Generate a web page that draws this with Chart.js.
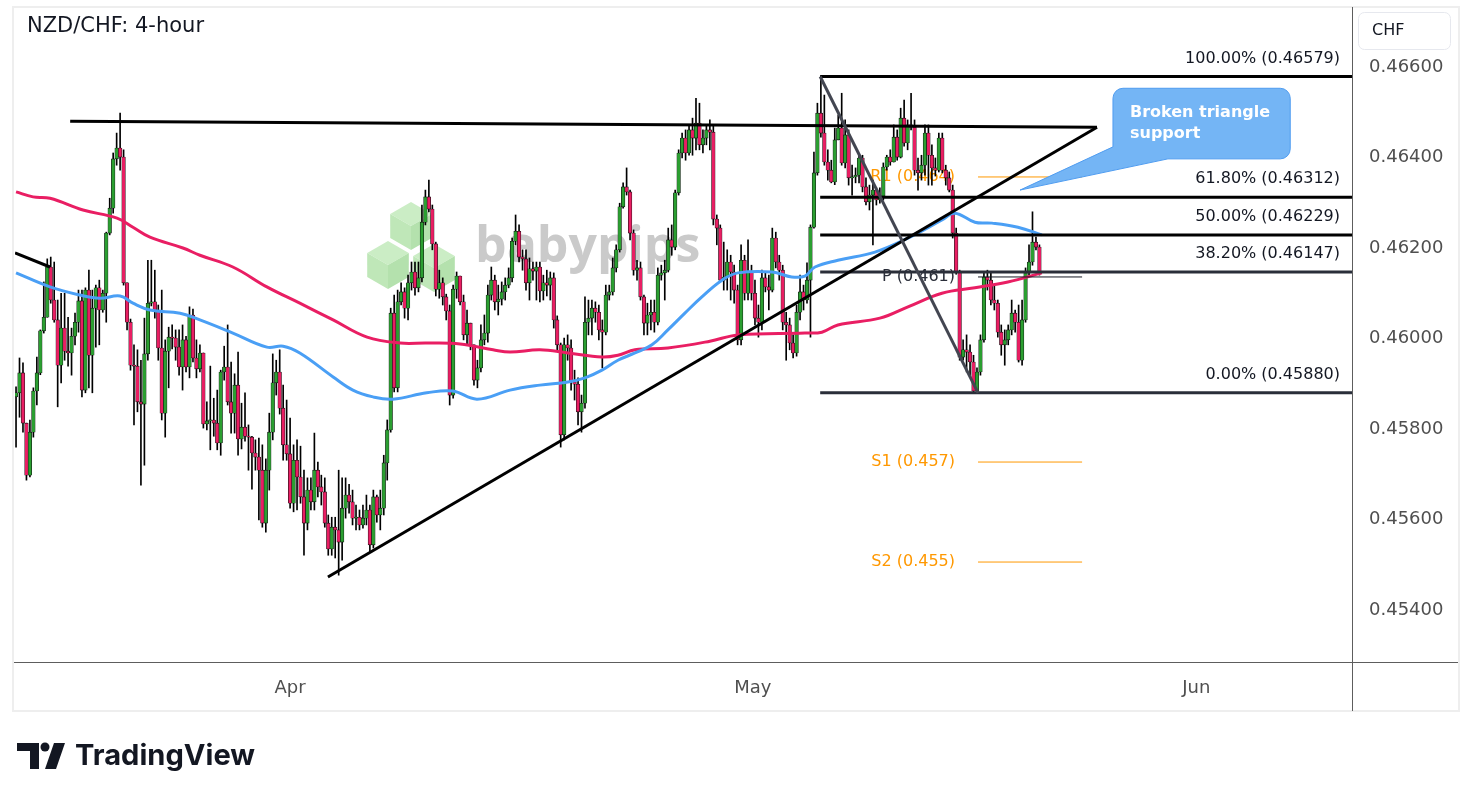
<!DOCTYPE html>
<html>
<head>
<meta charset="utf-8">
<title>NZD/CHF 4-hour</title>
<script src="https://cdn.jsdelivr.net/npm/chart.js@4.4.1/dist/chart.umd.min.js"></script>
<style>
  html, body { margin: 0; padding: 0; background: #ffffff; }
  canvas { display: block; }
</style>
</head>
<body>
<canvas id="priceChart" width="1473" height="801"></canvas>
<script>
// 4-hour candles (open = previous close)
const firstOpen = 0.45871;
const closes = [
  0.45880, 0.45924, 0.45813, 0.45698, 0.45793, 0.45884, 0.45924, 0.46017, 0.46047, 0.46158,
  0.46085, 0.46041, 0.45941, 0.46023, 0.45972, 0.45968, 0.46005, 0.46036, 0.46083, 0.45886,
  0.46107, 0.45963, 0.46067, 0.46112, 0.46063, 0.46100, 0.46233, 0.46288, 0.46397, 0.46421,
  0.46401, 0.46123, 0.46036, 0.45941, 0.45939, 0.45860, 0.45855, 0.45966, 0.46078, 0.46081,
  0.46061, 0.45979, 0.45835, 0.45972, 0.46003, 0.46001, 0.45981, 0.45937, 0.45997, 0.45937,
  0.46052, 0.45957, 0.45933, 0.45968, 0.45811, 0.45818, 0.45820, 0.45813, 0.45769, 0.45926,
  0.45937, 0.45860, 0.45835, 0.45897, 0.45778, 0.45804, 0.45784, 0.45782, 0.45747, 0.45738,
  0.45709, 0.45592, 0.45709, 0.45793, 0.45902, 0.45926, 0.45846, 0.45765, 0.45745, 0.45636,
  0.45731, 0.45694, 0.45650, 0.45592, 0.45665, 0.45639, 0.45709, 0.45672, 0.45661, 0.45592,
  0.45535, 0.45583, 0.45577, 0.45550, 0.45625, 0.45654, 0.45639, 0.45603, 0.45605, 0.45588,
  0.45603, 0.45621, 0.45544, 0.45650, 0.45610, 0.45625, 0.45725, 0.45798, 0.46056, 0.45891,
  0.46081, 0.46103, 0.46067, 0.46123, 0.46147, 0.46112, 0.46134, 0.46257, 0.46313, 0.46286,
  0.46209, 0.46109, 0.46123, 0.46092, 0.46061, 0.45875, 0.46109, 0.46138, 0.46081, 0.46008,
  0.46034, 0.45986, 0.45908, 0.45935, 0.45997, 0.46012, 0.46096, 0.46129, 0.46081, 0.46087,
  0.46103, 0.46118, 0.46134, 0.46215, 0.46237, 0.46180, 0.46176, 0.46123, 0.46154, 0.46149,
  0.46158, 0.46105, 0.46123, 0.46118, 0.46134, 0.46041, 0.45986, 0.45787, 0.45986, 0.45979,
  0.45904, 0.45899, 0.45838, 0.45857, 0.46036, 0.46045, 0.46067, 0.46058, 0.46019, 0.46014,
  0.46096, 0.46103, 0.46156, 0.46196, 0.46291, 0.46335, 0.46324, 0.46233, 0.46151, 0.46156,
  0.46092, 0.46034, 0.46052, 0.46058, 0.46036, 0.46140, 0.46145, 0.46151, 0.46218, 0.46202,
  0.46322, 0.46410, 0.46443, 0.46410, 0.46461, 0.46443, 0.46476, 0.46428, 0.46443, 0.46461,
  0.46456, 0.46264, 0.46244, 0.46129, 0.46136, 0.46169, 0.46147, 0.46107, 0.45997, 0.46173,
  0.46100, 0.46147, 0.46100, 0.46045, 0.46036, 0.46134, 0.46114, 0.46107, 0.46222, 0.46169,
  0.46151, 0.46036, 0.46030, 0.45990, 0.45968, 0.46058, 0.46103, 0.46085, 0.46129, 0.46246,
  0.46366, 0.46498, 0.46454, 0.46390, 0.46372, 0.46346, 0.46439, 0.46465, 0.46388, 0.46450,
  0.46355, 0.46357, 0.46361, 0.46399, 0.46335, 0.46302, 0.46317, 0.46328, 0.46306, 0.46315,
  0.46379, 0.46401, 0.46390, 0.46445, 0.46401, 0.46487, 0.46432, 0.46472, 0.46467, 0.46372,
  0.46366, 0.46383, 0.46454, 0.46405, 0.46377, 0.46372, 0.46443, 0.46372, 0.46355, 0.46328,
  0.46233, 0.46147, 0.45959, 0.45975, 0.45970, 0.45948, 0.45884, 0.45926, 0.45997, 0.46136,
  0.46129, 0.46085, 0.46078, 0.46014, 0.45986, 0.45997, 0.46019, 0.46056, 0.46036, 0.45952,
  0.46041, 0.46145, 0.46169, 0.46213, 0.46202, 0.46147
];
const highs = [
  0.45893, 0.45957, 0.45946, 0.45813, 0.45820, 0.45891, 0.45959, 0.46019, 0.46125, 0.46176,
  0.46180, 0.46169, 0.46085, 0.46100, 0.46100, 0.46047, 0.46023, 0.46056, 0.46107, 0.46107,
  0.46112, 0.46151, 0.46107, 0.46118, 0.46129, 0.46107, 0.46235, 0.46310, 0.46410, 0.46454,
  0.46498, 0.46417, 0.46123, 0.46043, 0.45986, 0.45975, 0.45952, 0.46045, 0.46173, 0.46173,
  0.46151, 0.46074, 0.46107, 0.45997, 0.46025, 0.46030, 0.46019, 0.46019, 0.46030, 0.46005,
  0.46070, 0.46065, 0.45997, 0.45986, 0.45968, 0.45860, 0.45939, 0.45868, 0.45886, 0.45930,
  0.45983, 0.46030, 0.45948, 0.45922, 0.45970, 0.45857, 0.45880, 0.45809, 0.45784, 0.45776,
  0.45780, 0.45765, 0.45734, 0.45835, 0.45966, 0.45952, 0.45975, 0.45897, 0.45864, 0.45824,
  0.45765, 0.45776, 0.45762, 0.45709, 0.45692, 0.45692, 0.45791, 0.45727, 0.45698, 0.45692,
  0.45610, 0.45605, 0.45605, 0.45709, 0.45692, 0.45692, 0.45678, 0.45665, 0.45632, 0.45621,
  0.45632, 0.45654, 0.45632, 0.45665, 0.45654, 0.45665, 0.45742, 0.45820, 0.46067, 0.46096,
  0.46107, 0.46123, 0.46112, 0.46140, 0.46169, 0.46169, 0.46169, 0.46295, 0.46328, 0.46350,
  0.46295, 0.46213, 0.46151, 0.46134, 0.46098, 0.46074, 0.46118, 0.46147, 0.46138, 0.46096,
  0.46063, 0.46034, 0.45986, 0.45952, 0.46030, 0.46052, 0.46118, 0.46158, 0.46140, 0.46118,
  0.46125, 0.46134, 0.46156, 0.46222, 0.46273, 0.46251, 0.46196, 0.46196, 0.46178, 0.46169,
  0.46169, 0.46169, 0.46140, 0.46151, 0.46147, 0.46145, 0.46050, 0.45990, 0.46001, 0.46008,
  0.45997, 0.45930, 0.45913, 0.45875, 0.46092, 0.46085, 0.46085, 0.46081, 0.46074, 0.46041,
  0.46118, 0.46118, 0.46178, 0.46207, 0.46299, 0.46344, 0.46377, 0.46328, 0.46240, 0.46173,
  0.46169, 0.46096, 0.46078, 0.46085, 0.46085, 0.46156, 0.46162, 0.46173, 0.46244, 0.46251,
  0.46328, 0.46417, 0.46454, 0.46461, 0.46472, 0.46487, 0.46531, 0.46520, 0.46461, 0.46472,
  0.46483, 0.46472, 0.46273, 0.46251, 0.46213, 0.46196, 0.46184, 0.46162, 0.46118, 0.46207,
  0.46184, 0.46218, 0.46162, 0.46129, 0.46074, 0.46151, 0.46147, 0.46140, 0.46244, 0.46235,
  0.46184, 0.46162, 0.46058, 0.46045, 0.46008, 0.46074, 0.46140, 0.46118, 0.46167, 0.46251,
  0.46412, 0.46520, 0.46580, 0.46538, 0.46417, 0.46394, 0.46465, 0.46494, 0.46542, 0.46483,
  0.46461, 0.46383, 0.46377, 0.46405, 0.46405, 0.46355, 0.46339, 0.46350, 0.46333, 0.46333,
  0.46388, 0.46405, 0.46417, 0.46472, 0.46461, 0.46509, 0.46527, 0.46483, 0.46542, 0.46483,
  0.46399, 0.46405, 0.46472, 0.46472, 0.46428, 0.46399, 0.46454, 0.46454, 0.46383, 0.46368,
  0.46339, 0.46244, 0.46151, 0.45997, 0.46008, 0.45986, 0.45963, 0.45935, 0.46008, 0.46147,
  0.46151, 0.46147, 0.46118, 0.46085, 0.46030, 0.46019, 0.46030, 0.46085, 0.46063, 0.46074,
  0.46085, 0.46156, 0.46207, 0.46280, 0.46224, 0.46207
];
const lows = [
  0.45760, 0.45826, 0.45793, 0.45687, 0.45694, 0.45782, 0.45853, 0.45920, 0.46012, 0.46047,
  0.46078, 0.46036, 0.45849, 0.45902, 0.45952, 0.45939, 0.45919, 0.45986, 0.46014, 0.45871,
  0.45880, 0.45891, 0.45880, 0.45981, 0.45986, 0.46058, 0.46036, 0.46229, 0.46277, 0.46383,
  0.46372, 0.46118, 0.46019, 0.45930, 0.45809, 0.45838, 0.45676, 0.45720, 0.45952, 0.46072,
  0.46045, 0.45952, 0.45820, 0.45782, 0.45891, 0.45977, 0.45952, 0.45919, 0.45886, 0.45926,
  0.45913, 0.45948, 0.45913, 0.45926, 0.45802, 0.45798, 0.45754, 0.45784, 0.45754, 0.45742,
  0.45908, 0.45853, 0.45791, 0.45791, 0.45742, 0.45756, 0.45773, 0.45709, 0.45667, 0.45709,
  0.45599, 0.45583, 0.45572, 0.45665, 0.45776, 0.45875, 0.45833, 0.45731, 0.45731, 0.45625,
  0.45617, 0.45621, 0.45636, 0.45521, 0.45577, 0.45621, 0.45621, 0.45650, 0.45632, 0.45583,
  0.45521, 0.45521, 0.45515, 0.45477, 0.45510, 0.45603, 0.45614, 0.45588, 0.45577, 0.45577,
  0.45581, 0.45588, 0.45528, 0.45537, 0.45594, 0.45577, 0.45610, 0.45687, 0.45793, 0.45882,
  0.45882, 0.46074, 0.46045, 0.46041, 0.46107, 0.46096, 0.46103, 0.46125, 0.46251, 0.46280,
  0.46196, 0.46094, 0.46089, 0.46074, 0.46041, 0.45853, 0.45868, 0.46089, 0.46074, 0.45997,
  0.45986, 0.45975, 0.45897, 0.45891, 0.45926, 0.45986, 0.45992, 0.46085, 0.46063, 0.46052,
  0.46074, 0.46085, 0.46112, 0.46125, 0.46207, 0.46169, 0.46151, 0.46107, 0.46085, 0.46129,
  0.46085, 0.46081, 0.46085, 0.46094, 0.46085, 0.46023, 0.45975, 0.45760, 0.45776, 0.45952,
  0.45886, 0.45864, 0.45809, 0.45793, 0.45846, 0.46008, 0.46008, 0.46036, 0.45997, 0.45935,
  0.46008, 0.46085, 0.46096, 0.46147, 0.46191, 0.46288, 0.46317, 0.46218, 0.46140, 0.46129,
  0.46085, 0.46008, 0.46008, 0.46019, 0.46014, 0.46030, 0.46129, 0.46085, 0.46147, 0.46184,
  0.46196, 0.46317, 0.46399, 0.46394, 0.46405, 0.46405, 0.46417, 0.46417, 0.46410, 0.46428,
  0.46417, 0.46251, 0.46207, 0.46125, 0.46107, 0.46107, 0.46085, 0.46078, 0.45986, 0.45986,
  0.46085, 0.46085, 0.46085, 0.46030, 0.46003, 0.46019, 0.46103, 0.46063, 0.46103, 0.46156,
  0.46129, 0.46019, 0.45952, 0.45975, 0.45957, 0.45961, 0.46041, 0.46063, 0.46078, 0.46003,
  0.46244, 0.46361, 0.46445, 0.46383, 0.46350, 0.46344, 0.46340, 0.46439, 0.46383, 0.46377,
  0.46339, 0.46317, 0.46344, 0.46344, 0.46324, 0.46295, 0.46284, 0.46207, 0.46295, 0.46299,
  0.46306, 0.46372, 0.46383, 0.46390, 0.46394, 0.46399, 0.46425, 0.46417, 0.46461, 0.46361,
  0.46328, 0.46350, 0.46361, 0.46339, 0.46339, 0.46359, 0.46368, 0.46366, 0.46339, 0.46324,
  0.46222, 0.46142, 0.45952, 0.45952, 0.45926, 0.45919, 0.45880, 0.45880, 0.45919, 0.45992,
  0.46107, 0.46074, 0.46063, 0.46003, 0.45963, 0.45941, 0.45986, 0.46008, 0.46014, 0.45948,
  0.45941, 0.46036, 0.46140, 0.46162, 0.46196, 0.46140
];

// moving averages: candle index / price
const ma100X = [0, 9.8, 18.4, 24.2, 30, 33.7, 38.6, 47.3, 53, 62.5, 72.3, 77, 81.8, 91.4, 97.1, 102.9,
  108.6, 118.4, 125.9, 132.9, 142.4, 151, 159.1, 164, 168.9, 173.5, 178.4, 183.3, 187.9, 192.8, 197.7,
  203.5, 208.1, 217.9, 223.6, 227.4, 230.3, 236.9, 247.6, 257.1, 266.9, 270.6, 276.4, 281.3, 288.8, 295.7];
const ma100 = [0.46145, 0.46114, 0.46096, 0.46089, 0.46094, 0.46078, 0.46063, 0.46056, 0.46041, 0.46012,
  0.45981, 0.45983, 0.45968, 0.45915, 0.45886, 0.45871, 0.45866, 0.45880, 0.45884, 0.45866, 0.45886,
  0.45897, 0.45904, 0.45913, 0.45930, 0.45952, 0.45968, 0.45986, 0.46019, 0.46056, 0.46092, 0.46129,
  0.46145, 0.46147, 0.46136, 0.46138, 0.46158, 0.46173, 0.46191, 0.46222, 0.46262, 0.46277, 0.46257,
  0.46255, 0.46246, 0.46229];
const ma200X = [0, 4.9, 9.8, 19.3, 29.1, 33.7, 38.6, 48.1, 53, 62.5, 72.3, 81.8, 91.4, 101.2, 110.7,
  118.4, 128, 137.5, 142.4, 151, 159.1, 168.9, 173.5, 178.4, 187.9, 200, 208.1, 227.4, 232.3, 236.9,
  249, 257.1, 266.9, 276.4, 285.9, 295.7];
const ma200 = [0.46324, 0.46313, 0.46310, 0.46284, 0.46266, 0.46246, 0.46224, 0.46200, 0.46184, 0.46158,
  0.46114, 0.46078, 0.46041, 0.46003, 0.45990, 0.45990, 0.45988, 0.45975, 0.45970, 0.45975, 0.45968,
  0.45959, 0.45963, 0.45975, 0.45979, 0.45994, 0.46008, 0.46012, 0.46014, 0.46030, 0.46045, 0.46070,
  0.46100, 0.46112, 0.46125, 0.46145];

// axes
const months = ["Apr", "May", "Jun"];
const monthX = [79, 212.4, 340.2];
const priceTicks = [0.454, 0.456, 0.458, 0.46, 0.462, 0.464, 0.466];
const xMin = -0.3, xMax = 385.1;
const yMin = 0.452851, yMax = 0.467304;

// drawings
const fibLevels = [100, 61.8, 50, 38.2, 0];
const fibPrices = [0.46579, 0.46312, 0.46229, 0.46147, 0.4588];
const fibFrom = 231.8;
const swingX = [231.8, 277.3];
const swingY = [0.46579, 0.4588];
const triTopX = [15.6, 311.6];
const triTopY = [0.4648, 0.46467];
const triLowX = [89.9, 311.6];
const triLowY = [0.45473, 0.46467];
const oldLineX = [-0.3, 9.8];
const oldLineY = [0.46189, 0.46158];
const pivotNames = ["R1", "P", "S1", "S2"];
const pivotRounded = [0.464, 0.461, 0.457, 0.455];
const pivotPrices = [0.46357, 0.46136, 0.45727, 0.45506];
const pivotX = [277.3, 307.3];

const UP = "#2b9f31";
const DOWN = "#e91e63";

const opens = [firstOpen].concat(closes.slice(0, -1));
const wickData = closes.map((c, i) => ({ x: i, y: [lows[i], highs[i]] }));
const bodyData = closes.map((c, i) => ({ x: i, y: [opens[i], c] }));
const bodyColors = closes.map((c, i) => (c >= opens[i] ? UP : DOWN));

function seg(xs, ys) {
  return xs.map((v, i) => ({ x: v, y: ys[i] }));
}

function lineSet(data, color, width, order) {
  return {
    type: "line",
    data: data,
    borderColor: color,
    borderWidth: width,
    pointRadius: 0,
    fill: false,
    tension: 0,
    order: order,
  };
}

const datasets = [
  {
    type: "bar",
    data: wickData,
    backgroundColor: "#000000",
    barThickness: 1,
    grouped: false,
    order: 20,
  },
  {
    type: "bar",
    data: bodyData,
    backgroundColor: bodyColors,
    borderColor: "#111111",
    borderWidth: 0.6,
    borderSkipped: false,
    barThickness: 3.6,
    minBarLength: 1,
    grouped: false,
    order: 19,
  },
  Object.assign(lineSet(seg(ma200X, ma200), "#e91e63", 3, 11), { tension: 0.4 }),
  Object.assign(lineSet(seg(ma100X, ma100), "#4a9ff5", 3, 10), { tension: 0.4 }),
];
pivotNames.forEach((n, i) => {
  datasets.push(lineSet(seg(pivotX, [pivotPrices[i], pivotPrices[i]]), n === "P" ? "#131722" : "#ff9800", 1, 5));
});
fibPrices.forEach((p, i) => {
  datasets.push(lineSet(seg([fibFrom, xMax], [p, p]), i > 2 ? "#2a2e39" : "#000000", 3, 2));
});
datasets.push(lineSet(seg(swingX, swingY), "#434651", 3, 1));
datasets.push(lineSet(seg(triTopX, triTopY), "#000000", 3, 1));
datasets.push(lineSet(seg(triLowX, triLowY), "#000000", 3, 1));
datasets.push(lineSet(seg(oldLineX, oldLineY), "#000000", 3, 1));

function cube(ctx, cx, cy, r) {
  const w = r * Math.cos(Math.PI / 6);
  const faces = [
    ["#cbedc5", [[cx, cy], [cx - w, cy - r / 2], [cx, cy - r], [cx + w, cy - r / 2]]],
    ["#bfe7b8", [[cx, cy], [cx - w, cy - r / 2], [cx - w, cy + r / 2], [cx, cy + r]]],
    ["#b4e1ad", [[cx, cy], [cx + w, cy - r / 2], [cx + w, cy + r / 2], [cx, cy + r]]],
  ];
  faces.forEach(([c, pts]) => {
    ctx.beginPath();
    pts.forEach((p, k) => (k ? ctx.lineTo(p[0], p[1]) : ctx.moveTo(p[0], p[1])));
    ctx.closePath();
    ctx.fillStyle = c;
    ctx.fill();
  });
}

const overlay = {
  id: "overlay",
  beforeDatasetsDraw(chart) {
    const { ctx, scales } = chart;
    const x = scales.x, y = scales.y;
    ctx.save();
    // watermark
    cube(ctx, 411, 226, 24);
    cube(ctx, 388, 265, 24);
    cube(ctx, 434, 268, 24);
    ctx.font = 'bold 50px "Open Sans"';
    ctx.fillStyle = "#cacaca";
    ctx.textAlign = "left";
    ctx.textBaseline = "alphabetic";
    ctx.fillText("babypips", 475, 262);
    // pivot labels
    ctx.font = '16px "DejaVu Sans"';
    ctx.textAlign = "right";
    ctx.textBaseline = "middle";
    pivotNames.forEach((n, i) => {
      ctx.fillStyle = n === "P" ? "#2a2e39" : "#ff9800";
      ctx.fillText(n + " (" + pivotRounded[i].toFixed(3) + ")",
        x.getPixelForValue(pivotX[0]) - 23, y.getPixelForValue(pivotPrices[i]));
    });
    ctx.restore();
  },
  afterDatasetsDraw(chart) {
    const { ctx, scales, chartArea } = chart;
    const x = scales.x, y = scales.y;
    ctx.save();
    // fib labels
    ctx.font = '16px "DejaVu Sans"';
    ctx.fillStyle = "#131722";
    ctx.textAlign = "right";
    ctx.textBaseline = "middle";
    fibPrices.forEach((p, i) => {
      ctx.fillText(fibLevels[i].toFixed(2) + "% (" + p.toFixed(5) + ")",
        chartArea.right - 12, y.getPixelForValue(p) - 18);
    });
    // callout
    const l = x.getPixelForValue(316.2), r = x.getPixelForValue(367.3);
    const t = y.getPixelForValue(0.46553), b = y.getPixelForValue(0.46397);
    const tipX = x.getPixelForValue(289.4), tipY = y.getPixelForValue(0.46328);
    const R = 10;
    ctx.beginPath();
    ctx.moveTo(l + R, t);
    ctx.lineTo(r - R, t);
    ctx.arcTo(r, t, r, t + R, R);
    ctx.lineTo(r, b - R);
    ctx.arcTo(r, b, r - R, b, R);
    ctx.lineTo(l + 55, b);
    ctx.lineTo(tipX, tipY);
    ctx.lineTo(l, b - 12);
    ctx.lineTo(l, t + R);
    ctx.arcTo(l, t, l + R, t, R);
    ctx.closePath();
    ctx.fillStyle = "#74b5f5";
    ctx.fill();
    ctx.strokeStyle = "#4f9cf0";
    ctx.lineWidth = 1;
    ctx.stroke();
    ctx.fillStyle = "#ffffff";
    ctx.font = 'bold 16px "DejaVu Sans"';
    ctx.textAlign = "left";
    ctx.fillText("Broken triangle", l + 17, t + 25);
    ctx.fillText("support", l + 17, t + 46);
    ctx.restore();
  },
  afterDraw(chart) {
    const { ctx, chartArea } = chart;
    ctx.save();
    // frame and axis separators
    ctx.strokeStyle = "#eeeeee";
    ctx.lineWidth = 2;
    ctx.strokeRect(13, 7, 1446, 704);
    ctx.strokeStyle = "#5d5d5d";
    ctx.lineWidth = 1;
    ctx.beginPath();
    ctx.moveTo(chartArea.right + 0.5, 7);
    ctx.lineTo(chartArea.right + 0.5, 711);
    ctx.moveTo(14, chartArea.bottom + 0.5);
    ctx.lineTo(1458, chartArea.bottom + 0.5);
    ctx.stroke();
    // currency box
    ctx.beginPath();
    ctx.roundRect(1358.5, 12.5, 92, 37, 6);
    ctx.fillStyle = "#ffffff";
    ctx.fill();
    ctx.strokeStyle = "#e6e8ee";
    ctx.stroke();
    ctx.fillStyle = "#131722";
    ctx.font = '16px "DejaVu Sans"';
    ctx.textAlign = "left";
    ctx.textBaseline = "middle";
    ctx.fillText("CHF", 1372, 31);
    // title
    ctx.font = '21px "DejaVu Sans"';
    ctx.fillText("NZD/CHF: 4-hour", 27, 27);
    // TradingView mark
    ctx.fillStyle = "#131722";
    ctx.fillRect(17, 743, 22, 8);
    ctx.fillRect(30, 743, 9, 26);
    ctx.beginPath();
    ctx.arc(45, 747, 4.5, 0, Math.PI * 2);
    ctx.fill();
    ctx.beginPath();
    ctx.moveTo(45, 769);
    ctx.lineTo(54, 743);
    ctx.lineTo(65, 743);
    ctx.lineTo(56, 769);
    ctx.closePath();
    ctx.fill();
    ctx.font = 'bold 29px "Inter"';
    const w = ctx.measureText("TradingView").width;
    ctx.font = "bold " + (29 * 180 / w).toFixed(1) + 'px "Inter"';
    ctx.textBaseline = "alphabetic";
    ctx.fillText("TradingView", 75, 765);
    ctx.restore();
  },
};

new Chart(document.getElementById("priceChart").getContext("2d"), {
  type: "bar",
  data: { datasets: datasets },
  options: {
    responsive: false,
    animation: false,
    events: [],
    layout: { padding: { left: 15, top: 8, right: 0, bottom: 0 } },
    plugins: { legend: { display: false }, tooltip: { enabled: false } },
    scales: {
      x: {
        type: "linear",
        min: xMin,
        max: xMax,
        offset: false,
        grid: { display: false, drawTicks: false },
        border: { display: false },
        afterBuildTicks: (scale) => {
          scale.ticks = monthX.map((v) => ({ value: v }));
        },
        afterFit: (scale) => {
          scale.height = 139;
          scale.paddingLeft = 0;
          scale.paddingRight = 0;
        },
        ticks: {
          autoSkip: false,
          maxRotation: 0,
          padding: 16,
          color: "#4f4f4f",
          font: { family: "DejaVu Sans", size: 18 },
          callback: (v, i) => months[i],
        },
      },
      y: {
        type: "linear",
        position: "right",
        min: yMin,
        max: yMax,
        grid: { display: false, drawTicks: false },
        border: { display: false },
        afterBuildTicks: (scale) => {
          scale.ticks = priceTicks.map((v) => ({ value: v }));
        },
        afterFit: (scale) => {
          scale.width = 121;
          scale.paddingTop = 0;
          scale.paddingBottom = 0;
        },
        ticks: {
          padding: 17,
          color: "#4f4f4f",
          font: { family: "DejaVu Sans", size: 18 },
          callback: (v) => v.toFixed(5),
        },
      },
    },
  },
  plugins: [overlay],
});
</script>
</body>
</html>
